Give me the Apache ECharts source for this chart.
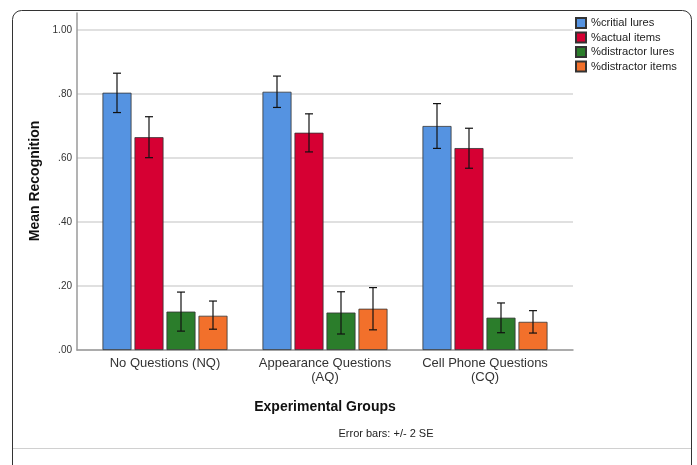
<!DOCTYPE html>
<html>
<head>
<meta charset="utf-8">
<script src="https://cdn.jsdelivr.net/npm/echarts@6/dist/echarts.min.js"></script>
<style>html,body{margin:0;padding:0;background:#fff;}#c{width:697px;height:465px;}</style>
</head>
<body>
<div id="c"></div>
<script>
const categories = ['No Questions (NQ)', 'Appearance Questions\n(AQ)', 'Cell Phone Questions\n(CQ)'];
const seriesNames = ['%critial lures', '%actual items', '%distractor lures', '%distractor items'];
const colors = ['#5593E1', '#D60033', '#2B7D2B', '#F2702B'];
const critialLures = [0.804, 0.807, 0.700];
const actualItems = [0.665, 0.679, 0.631];
const distractorLures = [0.120, 0.117, 0.101];
const distractorItems = [0.107, 0.129, 0.088];
const errLow = [
  [0.742, 0.758, 0.630],
  [0.601, 0.619, 0.568],
  [0.059, 0.050, 0.054],
  [0.065, 0.063, 0.053]
];
const errHigh = [
  [0.865, 0.856, 0.770],
  [0.729, 0.738, 0.693],
  [0.181, 0.182, 0.147],
  [0.153, 0.195, 0.123]
];
const yTicks = [0, 0.2, 0.4, 0.6, 0.8, 1.0];
const values = [critialLures, actualItems, distractorLures, distractorItems];

const FONT = 'Liberation Sans, Arial, sans-serif';
const BAR_W = 29, BAR_GAP = 3;

const chart = echarts.init(document.getElementById('c'));
const series = [];
values.forEach((vals, i) => {
  series.push({
    name: seriesNames[i], type: 'bar', xAxisIndex: 2, yAxisIndex: 2,
    data: vals, barWidth: BAR_W, barGap: (BAR_GAP / BAR_W * 100) + '%',
    itemStyle: { color: colors[i], borderColor: '#333', borderWidth: 0.8 },
    emphasis: { disabled: true }
  });
});
values.forEach((vals, i) => {
  const off = (i - 1.5) * (BAR_W + BAR_GAP);
  series.push({
    name: 'err' + i, type: 'custom', xAxisIndex: 2, yAxisIndex: 2, z: 5,
    data: vals.map((v, k) => [k, errLow[i][k], errHigh[i][k]]),
    renderItem: function (params, api) {
      const k = api.value(0);
      const lo = api.coord([k, api.value(1)]);
      const hi = api.coord([k, api.value(2)]);
      const x = lo[0] + off;
      const cap = 4;
      const st = { stroke: '#111', lineWidth: 1.2 };
      return {
        type: 'group', children: [
          { type: 'line', shape: { x1: x, y1: lo[1], x2: x, y2: hi[1] }, style: st },
          { type: 'line', shape: { x1: x - cap, y1: lo[1], x2: x + cap, y2: lo[1] }, style: st },
          { type: 'line', shape: { x1: x - cap, y1: hi[1], x2: x + cap, y2: hi[1] }, style: st }
        ]
      };
    }
  });
});

chart.setOption({
  backgroundColor: '#fff',
  animation: false,
  grid: [
    { left: 77, top: 13, width: 496, height: 337 },
    { left: 77, top: 30, width: 496, height: 320 },
    { left: 85, top: 30, width: 480, height: 320 }
  ],
  legend: {
    data: seriesNames, orient: 'vertical', left: 575, top: 17, padding: 0,
    icon: 'rect', itemWidth: 10, itemHeight: 10, itemGap: 2.5,
    textStyle: { fontSize: 11.2, color: '#222', fontFamily: FONT },
    selectedMode: false
  },
  xAxis: [
    { gridIndex: 0, type: 'value', min: 0, max: 1,
      axisLine: { show: true, lineStyle: { color: '#9a9a9a', width: 1.5 } },
      axisTick: { show: false }, axisLabel: { show: false }, splitLine: { show: false } },
    { gridIndex: 1, type: 'value', min: 0, max: 1, show: false },
    { gridIndex: 2, type: 'category', data: categories,
      axisLine: { show: false }, axisTick: { show: false },
      axisLabel: { fontSize: 13, color: '#333', fontFamily: FONT, margin: 6, lineHeight: 14, interval: 0 } }
  ],
  yAxis: [
    { gridIndex: 0, type: 'value', min: 0, max: 1,
      axisLine: { show: true, lineStyle: { color: '#9a9a9a', width: 1.5 } },
      axisTick: { show: false }, axisLabel: { show: false }, splitLine: { show: false } },
    { gridIndex: 1, type: 'value', min: yTicks[0], max: yTicks[yTicks.length - 1], interval: 0.2,
      axisLine: { show: false }, axisTick: { show: false },
      axisLabel: { fontSize: 10, color: '#333', fontFamily: FONT, margin: 5,
        formatter: v => { const s = v.toFixed(2); return s.startsWith('0') ? s.slice(1) : s; } },
      splitLine: { show: true, lineStyle: { color: '#d6d6d6', width: 1.5 } } },
    { gridIndex: 2, type: 'value', min: 0, max: 1, show: false }
  ],
  graphic: [
    { type: 'rect', shape: { x: 12.5, y: 10.5, width: 679, height: 480, r: [9, 9, 0, 0] },
      style: { fill: 'none', stroke: '#333', lineWidth: 1 }, silent: true },
    { type: 'line', shape: { x1: 13, y1: 448.5, x2: 691, y2: 448.5 },
      style: { stroke: '#d0d0d0', lineWidth: 1 }, silent: true },
    { type: 'text', x: 35, y: 181, rotation: Math.PI / 2,
      style: { text: 'Mean Recognition', fontSize: 14, fontWeight: 'bold', fill: '#111', fontFamily: FONT,
        textAlign: 'center', textVerticalAlign: 'middle' } },
    { type: 'text', x: 325, y: 407,
      style: { text: 'Experimental Groups', fontSize: 14, fontWeight: 'bold', fill: '#111', fontFamily: FONT,
        textAlign: 'center', textVerticalAlign: 'middle' } },
    { type: 'text', x: 386, y: 434,
      style: { text: 'Error bars: +/- 2 SE', fontSize: 11, fill: '#222', fontFamily: FONT,
        textAlign: 'center', textVerticalAlign: 'middle' } }
  ],
  series: series
});
</script>
</body>
</html>
